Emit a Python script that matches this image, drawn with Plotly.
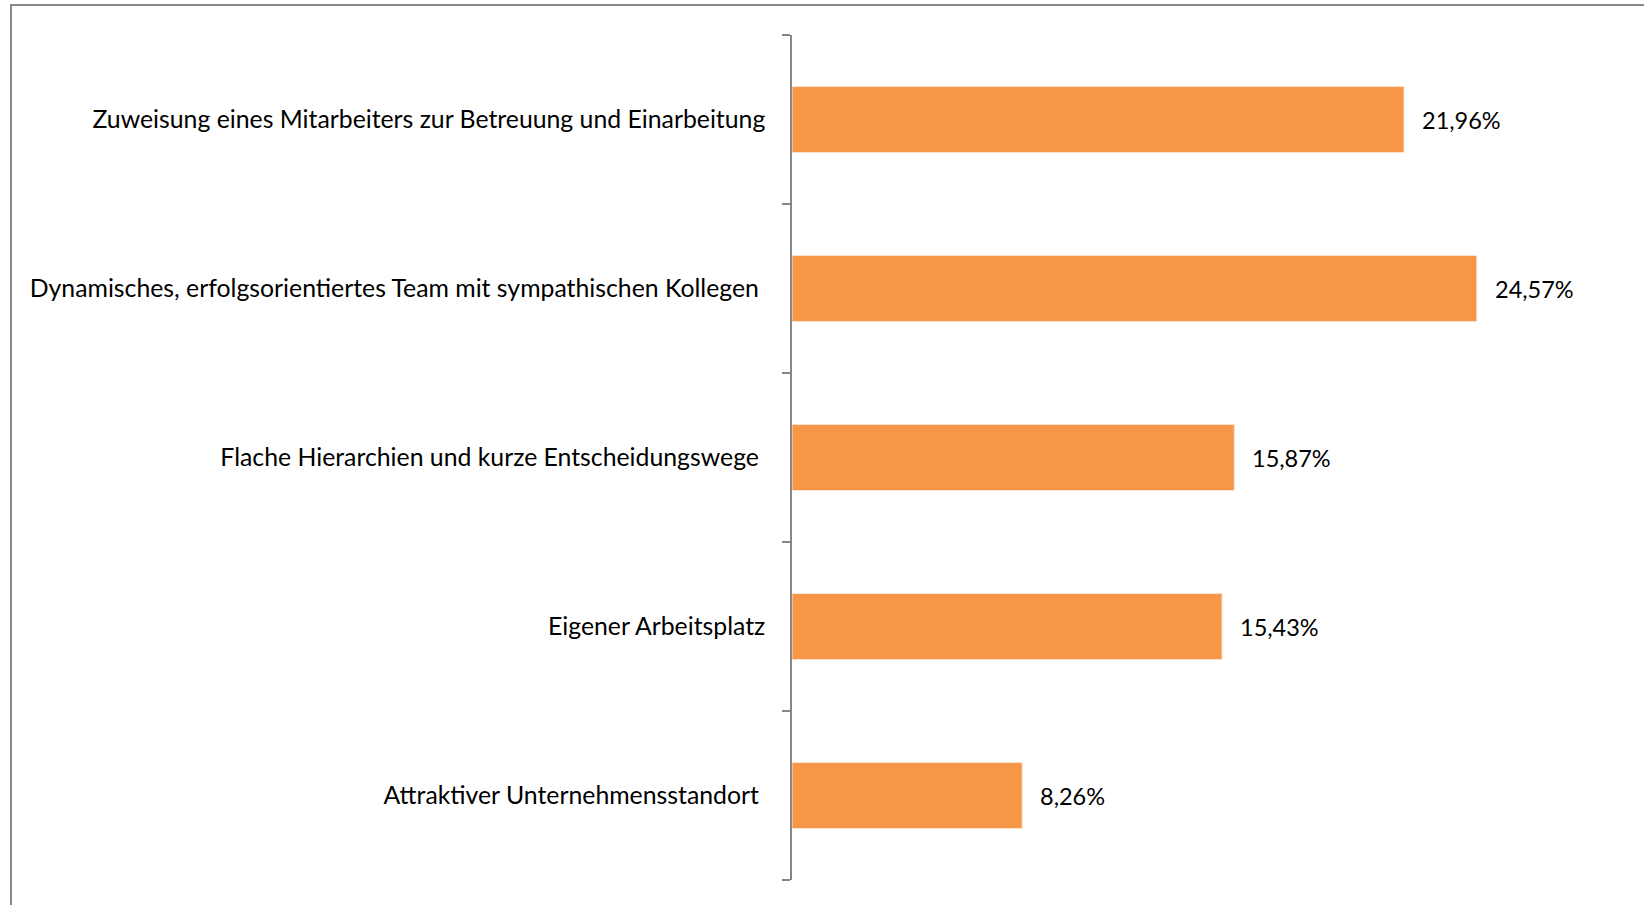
import plotly.graph_objects as go

categories = [
    "Zuweisung eines Mitarbeiters zur Betreuung und Einarbeitung",
    "Dynamisches, erfolgsorientiertes Team mit sympathischen Kollegen",
    "Flache Hierarchien und kurze Entscheidungswege",
    "Eigener Arbeitsplatz",
    "Attraktiver Unternehmensstandort",
]
# the source labels 2, 3 and 5 carry a trailing space
tick_texts = [
    "Zuweisung eines Mitarbeiters zur Betreuung und Einarbeitung",
    "Dynamisches, erfolgsorientiertes Team mit sympathischen Kollegen\u00a0",
    "Flache Hierarchien und kurze Entscheidungswege\u00a0",
    "Eigener Arbeitsplatz",
    "Attraktiver Unternehmensstandort\u00a0",
]
values = [21.96, 24.57, 15.87, 15.43, 8.26]
labels = [f"{v:.2f}".replace(".", ",") + "%" for v in values]

W, H = 1644, 905
L, R, T, B = 792, 16, 35, 25
pw = W - L - R
ph = H - T - B

FONT = "Lato"

fig = go.Figure()
fig.add_trace(go.Bar(
    x=values, y=categories, orientation="h",
    marker=dict(color="#F79646", line=dict(color="#FBE3D0", width=1)),
    width=0.39, hoverinfo="skip", showlegend=False,
))

for c, v, t in zip(categories, values, labels):
    fig.add_annotation(x=v, y=c, text=t, showarrow=False, xanchor="left",
                       xshift=16, font=dict(family=FONT, size=23.5, color="#000000"))

# chart-area border
x0 = (11 - L) / pw
y1 = 1 + (T - 5) / ph
fig.add_shape(type="rect", xref="paper", yref="paper",
              x0=x0, x1=1 + 40 / pw, y0=-40 / ph, y1=y1,
              line=dict(color="#878787", width=2), layer="below")

fig.update_layout(
    width=W, height=H,
    margin=dict(l=L, r=R, t=T, b=B, autoexpand=False),
    paper_bgcolor="white", plot_bgcolor="white",
    font=dict(family=FONT, size=24.8, color="#000000"),
    xaxis=dict(range=[0, pw / 27.87], visible=False, showgrid=False, zeroline=False),
    yaxis=dict(
        autorange="reversed", showline=True, linecolor="#868686", linewidth=1.5,
        ticks="outside", ticklen=8, tickcolor="#868686", tickwidth=1.5,
        tickson="boundaries", showgrid=False, zeroline=False,
        tickmode="array", tickvals=categories, ticktext=tick_texts,
        ticklabelstandoff=20, automargin=False,
        tickfont=dict(family=FONT, size=24.8, color="#000000"),
    ),
)

fig.write_html("out.html", config={"displayModeBar": False},
               post_script="document.body.style.margin='0';document.body.style.overflow='hidden';")
